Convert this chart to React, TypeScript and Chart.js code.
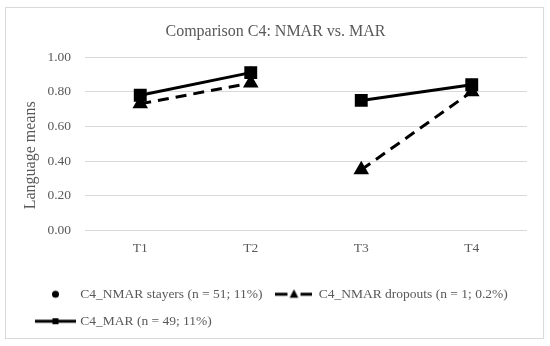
import React, { useEffect, useRef } from 'react';
import { Chart, registerables } from 'chart.js';

Chart.register(...registerables);

const categories = ['T1', 'T2', 'T3', 'T4'];
const stayersValues = [0.78, 0.91, null, 0.84];
const dropoutsValues = [0.73, 0.85, 0.35, 0.8];
const marValues = [0.78, 0.91, 0.75, 0.84];
const seriesNames = [
  'C4_NMAR stayers (n = 51; 11%)',
  'C4_NMAR dropouts (n = 1; 0.2%)',
  'C4_MAR (n = 49; 11%)',
];
const chartTitle = 'Comparison C4: NMAR vs. MAR';
const yAxisTitle = 'Language means';
const yMin = 0;
const yMax = 1;
const yStep = 0.2;

const FONT = '"Liberation Serif", "Times New Roman", serif';
const TEXT = '#595959';
const GRID = '#d9d9d9';

function makeSymbol(kind: string): HTMLCanvasElement {
  const c = document.createElement('canvas');
  const w = kind === 'triangle' ? 37 : 41;
  c.width = w;
  c.height = 14;
  const g = c.getContext('2d')!;
  g.fillStyle = '#000';
  g.strokeStyle = '#000';
  g.lineWidth = 3;
  const cx = w / 2;
  const cy = 7;
  if (kind === 'circle') {
    g.beginPath();
    g.arc(cx, cy, 3.5, 0, Math.PI * 2);
    g.fill();
  } else if (kind === 'triangle') {
    g.beginPath();
    g.moveTo(0, cy);
    g.lineTo(12, cy);
    g.moveTo(25, cy);
    g.lineTo(w, cy);
    g.stroke();
    const r = 5;
    g.beginPath();
    g.moveTo(cx, cy - r);
    g.lineTo(cx + r * 0.866, cy + r * 0.5 + 1);
    g.lineTo(cx - r * 0.866, cy + r * 0.5 + 1);
    g.closePath();
    g.fill();
  } else {
    g.beginPath();
    g.moveTo(0, cy);
    g.lineTo(w, cy);
    g.stroke();
    g.fillRect(cx - 3, cy - 3, 6, 6);
  }
  return c;
}

const framePlugin = {
  id: 'frame',
  beforeDraw(chart: any) {
    const { ctx, width, height } = chart;
    ctx.save();
    ctx.fillStyle = '#ffffff';
    ctx.fillRect(0, 0, width, height);
    ctx.strokeStyle = GRID;
    ctx.lineWidth = 1;
    ctx.strokeRect(5.5, 7.5, 538, 331);
    ctx.restore();
  },
};

const yTitlePlugin = {
  id: 'yTitleDraw',
  afterDraw(chart: any) {
    const { ctx, chartArea } = chart;
    ctx.save();
    ctx.translate(31, (chartArea.top + chartArea.bottom) / 2 + 11.5);
    ctx.rotate(-Math.PI / 2);
    ctx.font = `16px ${FONT}`;
    ctx.fillStyle = TEXT;
    ctx.textAlign = 'center';
    ctx.textBaseline = 'middle';
    ctx.fillText(yAxisTitle, 0, 0);
    ctx.restore();
  },
};

const gapSegment = {
  borderColor: (ctx: any) => (ctx.p0DataIndex === 1 ? 'rgba(0,0,0,0)' : undefined),
};

export default function App() {
  const ref = useRef<HTMLCanvasElement | null>(null);

  useEffect(() => {
    if (!ref.current) return;
    const symbols = [makeSymbol('circle'), makeSymbol('triangle'), makeSymbol('rect')];
    const chart = new Chart(ref.current, {
      type: 'line',
      data: {
        labels: categories,
        datasets: [
          {
            label: seriesNames[0],
            data: stayersValues,
            showLine: false,
            pointStyle: 'circle',
            pointRadius: 5.5,
            pointBackgroundColor: '#000',
            pointBorderColor: '#000',
            borderColor: '#000',
            backgroundColor: '#000',
          },
          {
            label: seriesNames[1],
            data: dropoutsValues,
            borderColor: '#000',
            backgroundColor: '#000',
            borderWidth: 3,
            borderDash: [11, 7],
            pointStyle: 'triangle',
            pointRadius: 6,
            pointBackgroundColor: '#000',
            pointBorderColor: '#000',
            segment: gapSegment,
          },
          {
            label: seriesNames[2],
            data: marValues,
            borderColor: '#000',
            backgroundColor: '#000',
            borderWidth: 3,
            pointStyle: 'rect',
            pointRadius: 7,
            pointBackgroundColor: '#000',
            pointBorderColor: '#000',
            segment: gapSegment,
          },
        ],
      },
      options: {
        animation: false,
        responsive: true,
        maintainAspectRatio: false,
        layout: { padding: { left: 24, right: 23, top: 0, bottom: 8 } },
        plugins: {
          title: {
            display: true,
            text: chartTitle,
            color: TEXT,
            font: { family: FONT, size: 16, weight: 'normal' },
            padding: { top: 22, bottom: 15.8 },
          },
          legend: {
            position: 'bottom',
            align: 'start',
            labels: {
              usePointStyle: true,
              pointStyleWidth: 36,
              padding: 13.5,
              color: TEXT,
              font: { family: FONT, size: 13.5 },
              generateLabels: (c: any) =>
                c.data.datasets.map((ds: any, i: number) => ({
                  text: ds.label,
                  pointStyle: symbols[i],
                  fillStyle: '#000',
                  strokeStyle: '#000',
                  lineWidth: 0,
                  hidden: false,
                  datasetIndex: i,
                  fontColor: TEXT,
                })),
            },
          },
          tooltip: { enabled: false },
        },
        scales: {
          x: {
            offset: true,
            grid: { display: false },
            border: { display: false },
            ticks: { color: TEXT, font: { family: FONT, size: 13.5 }, padding: 2 },
            afterFit: (s: any) => {
              s.height = 43.4;
            },
          },
          y: {
            min: yMin,
            max: yMax,
            ticks: {
              stepSize: yStep,
              color: TEXT,
              font: { family: FONT, size: 13.5 },
              padding: 14,
              callback: (v: any) => Number(v).toFixed(2),
            },
            grid: { color: GRID, lineWidth: 1, drawTicks: false },
            border: { display: false },
            afterFit: (s: any) => {
              s.width = 61;
            },
          },
        },
      },
      plugins: [framePlugin, yTitlePlugin],
    } as any);
    return () => chart.destroy();
  }, []);

  return (
    <div style={{ position: 'fixed', left: 0, top: 0, width: 550, height: 346, background: '#fff' }}>
      <canvas ref={ref} width={550} height={346} />
    </div>
  );
}
